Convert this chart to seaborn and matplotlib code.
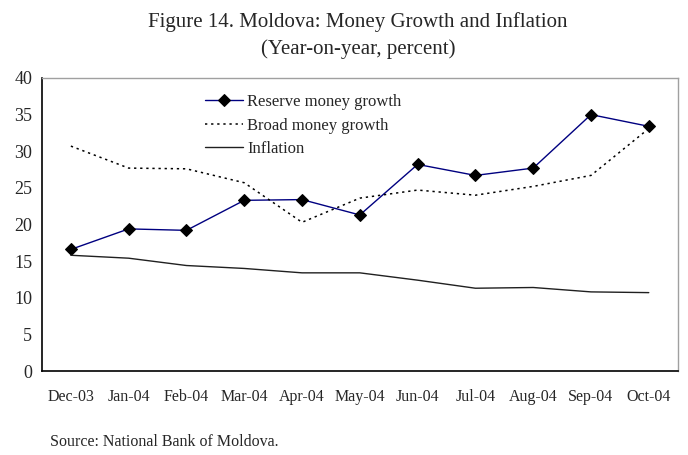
import pandas as pd
import numpy as np
import matplotlib
matplotlib.use("Agg")
import matplotlib.pyplot as plt
import seaborn as sns

months = ["Dec-03", "Jan-04", "Feb-04", "Mar-04", "Apr-04", "May-04",
          "Jun-04", "Jul-04", "Aug-04", "Sep-04", "Oct-04"]
reserve = [16.6, 19.4, 19.2, 23.3, 23.4, 21.3, 28.2, 26.7, 27.7, 35.0, 33.4]
broad = [30.7, 27.7, 27.6, 25.7, 20.3, 23.6, 24.7, 24.0, 25.2, 26.7, 33.1]
inflation = [15.8, 15.4, 14.4, 14.0, 13.4, 13.4, 12.4, 11.3, 11.4, 10.8, 10.7]

df = pd.DataFrame({"Month": months, "Reserve": reserve, "Broad": broad, "Inflation": inflation})

sns.set_style("white")
plt.rcParams['font.family'] = ['Liberation Serif', 'DejaVu Serif']

fig = plt.figure(figsize=(6.88, 4.55), dpi=100)
ax = fig.add_axes([0.061, 0.1846, 0.924, 0.644])

sns.lineplot(data=df, x="Month", y="Reserve", ax=ax, color="#000080", lw=1.0,
             marker="D", markersize=6.5, markerfacecolor="black", markeredgecolor="black",
             label="Reserve money growth", sort=False)
sns.lineplot(data=df, x="Month", y="Broad", ax=ax, color="black", lw=1.1,
             linestyle=(0, (1.5, 2.5)), label="Broad money growth", sort=False)
sns.lineplot(data=df, x="Month", y="Inflation", ax=ax, color="#202020", lw=1.0,
             label="Inflation", sort=False)

ax.set_xlim(-0.5, len(months) - 0.5)
ax.set_ylim(0, 40)
ax.set_yticks(range(0, 41, 5))
ax.set_xticks(range(len(months)))
ax.set_xticklabels(months, fontsize=11.5)
ax.set_xticks(np.arange(0.5, len(months) - 1, 1), minor=True)
ax.tick_params(axis="x", which="major", length=0, pad=13)
ax.tick_params(axis="x", which="minor", length=5, width=1, direction="out", color="black")
ax.tick_params(axis="y", length=5, width=1, direction="out", color="black", labelsize=13, pad=2)
ax.set_xlabel("")
ax.set_ylabel("")

for s in ["left", "bottom"]:
    ax.spines[s].set_color("black")
    ax.spines[s].set_linewidth(1.2)
for s in ["top", "right"]:
    ax.spines[s].set_color("#a0a0a0")
    ax.spines[s].set_linewidth(1.0)

ax.legend(loc="upper left", bbox_to_anchor=(0.235, 0.99), frameon=False, fontsize=12,
          handlelength=2.3, handletextpad=0.25, labelspacing=0.45, borderaxespad=0.4)

fig.text(0.52, 0.951, "Figure 14. Moldova: Money Growth and Inflation", ha="center",
         va="center", fontsize=15)
fig.text(0.52, 0.892, "(Year-on-year, percent)", ha="center", va="center", fontsize=15)
fig.text(0.072, 0.028, "Source: National Bank of Moldova.", ha="left", va="center", fontsize=11.5)

fig.savefig("out.png", dpi=100)
